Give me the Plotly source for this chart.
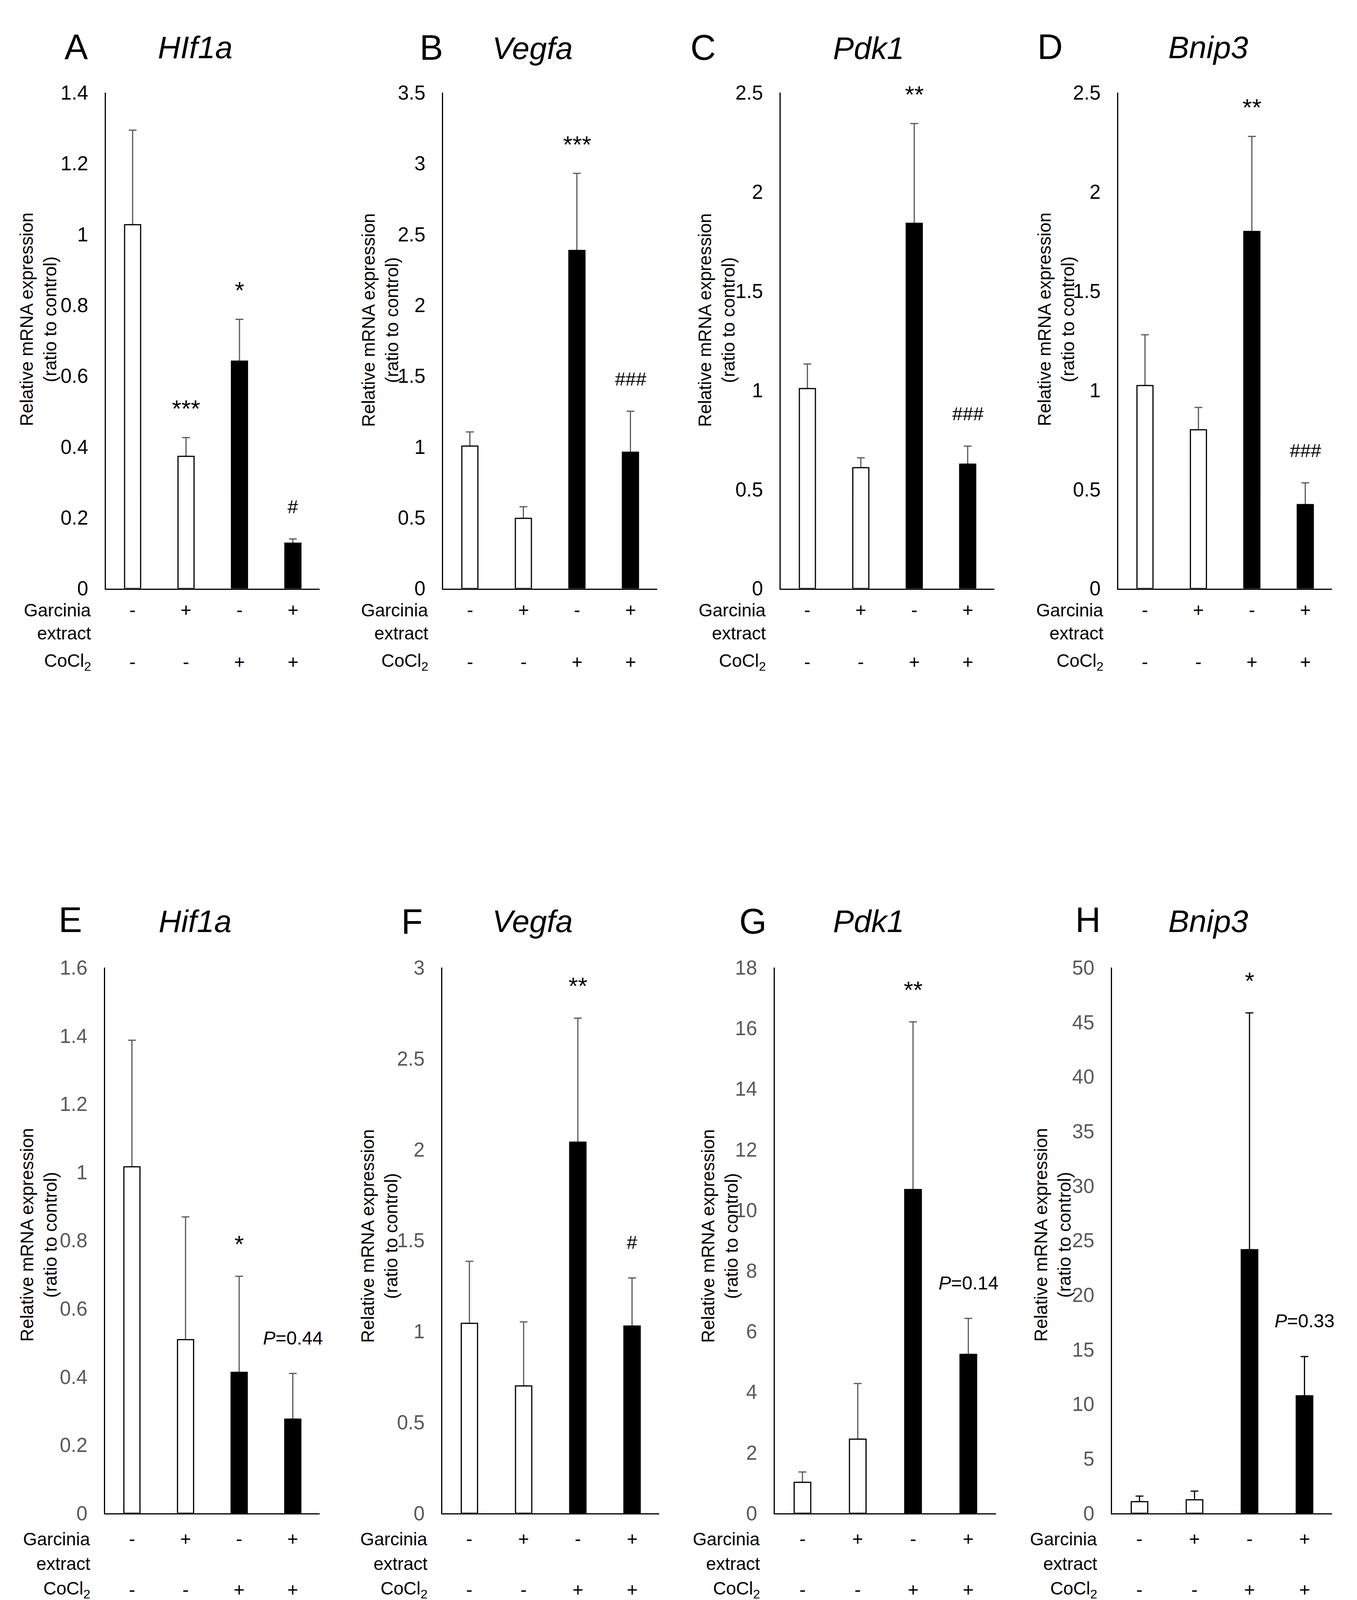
import plotly.graph_objects as go

# ---------------- data ----------------
panel_letters = ["A", "B", "C", "D", "E", "F", "G", "H"]
gene_names = ["HIf1a", "Vegfa", "Pdk1", "Bnip3", "Hif1a", "Vegfa", "Pdk1", "Bnip3"]
groups = ["Control", "Garcinia", "CoCl2", "Garcinia+CoCl2"]
garcinia_signs = ["-", "+", "-", "+"]
cocl2_signs = ["-", "-", "+", "+"]

means_A = [1.027, 0.373, 0.642, 0.128]
sd_A = [0.267, 0.053, 0.118, 0.012]
sig_A = ["", "***", "*", "#"]

means_B = [1.005, 0.495, 2.386, 0.962]
sd_B = [0.100, 0.082, 0.544, 0.289]
sig_B = ["", "", "***", "###"]

means_C = [1.008, 0.609, 1.841, 0.627]
sd_C = [0.124, 0.050, 0.503, 0.091]
sig_C = ["", "", "**", "###"]

means_D = [1.023, 0.800, 1.800, 0.423]
sd_D = [0.256, 0.113, 0.479, 0.110]
sig_D = ["", "", "**", "###"]

means_E = [1.016, 0.509, 0.413, 0.276]
sd_E = [0.371, 0.360, 0.282, 0.134]
sig_E = ["", "", "*", "<i>P</i>=0.44"]

means_F = [1.044, 0.700, 2.040, 1.029]
sd_F = [0.341, 0.352, 0.682, 0.265]
sig_F = ["", "", "**", "#"]

means_G = [1.02, 2.445, 10.68, 5.24]
sd_G = [0.34, 1.835, 5.53, 1.19]
sig_G = ["", "", "**", "<i>P</i>=0.14"]

means_H = [1.06, 1.23, 24.15, 10.76]
sd_H = [0.51, 0.80, 21.70, 3.60]
sig_H = ["", "", "*", "<i>P</i>=0.33"]

y_max = [1.4, 3.5, 2.5, 2.5, 1.6, 3, 18, 50]
y_dtick = [0.2, 0.5, 0.5, 0.5, 0.2, 0.5, 2, 5]

all_means = [means_A, means_B, means_C, means_D, means_E, means_F, means_G, means_H]
all_sd = [sd_A, sd_B, sd_C, sd_D, sd_E, sd_F, sd_G, sd_H]
all_sig = [sig_A, sig_B, sig_C, sig_D, sig_E, sig_F, sig_G, sig_H]

# ---------------- layout geometry (pixels) ----------------
W, H = 3473, 4184
x_px = [(271, 818), (1134, 1682), (1998, 2545), (2862, 3409),
        (269, 818), (1132, 1687), (1983, 2549), (2846, 3409)]
row_y_px = [(212, 1499), (2483, 3899)]
letter_px = [(195, 93), (1104, 95), (1799, 95), (2687, 93),
             (180, 2359), (1054, 2363), (1927, 2363), (2784, 2359)]
gene_px = [(500, 95), (1363, 97), (2223, 97), (3092, 95),
           (500, 2363), (1363, 2363), (2223, 2363), (3092, 2363)]
ytitle_px = [(98, 801), (973, 803), (1834, 803), (2703, 801),
             (99, 3177), (971, 3180), (1842, 3180), (2694, 3177)]
label_offsets = [(55, 114, 188), (66, 129, 196)]

FONT = "Liberation Sans, Arial, sans-serif"
GRAY = "#595959"

fig = go.Figure()
layout = dict(
    width=W, height=H, autosize=False,
    margin=dict(l=0, r=0, t=0, b=0),
    paper_bgcolor="white", plot_bgcolor="white",
    barmode="overlay", showlegend=False,
    font=dict(family=FONT, color="black"),
)
annotations = []
xpos = list(range(len(groups)))

for i in range(8):
    n = "" if i == 0 else str(i + 1)
    row = 0 if i < 4 else 1
    means, sd, sig = all_means[i], all_sd[i], all_sig[i]
    err_color = "black" if i == 7 else GRAY
    tick_color = "black" if row == 0 else GRAY

    # underlying transparent bars carrying the (upward) error bars
    fig.add_trace(go.Bar(
        x=xpos, y=means, width=0.3,
        marker=dict(color="rgba(0,0,0,0)", line=dict(width=0)),
        error_y=dict(type="data", array=sd, arrayminus=[0] * 4, symmetric=False,
                     color=err_color, thickness=3, width=10),
        xaxis="x" + n, yaxis="y" + n, hoverinfo="skip",
    ))
    # visible bars on top
    fig.add_trace(go.Bar(
        x=xpos, y=means, width=0.3,
        marker=dict(color=["white", "white", "black", "black"],
                    line=dict(color="black", width=3)),
        xaxis="x" + n, yaxis="y" + n, hoverinfo="skip",
    ))

    x0, x1 = x_px[i]
    yt, yb = row_y_px[row]
    layout["xaxis" + n] = dict(
        domain=[x0 / W, x1 / W], anchor="y" + n, range=[-0.5, 3.5],
        showline=True, linecolor="black", linewidth=3, showticklabels=False,
        ticks="", showgrid=False, zeroline=False, fixedrange=True,
    )
    layout["yaxis" + n] = dict(
        domain=[1 - yb / H, 1 - yt / H], anchor="x" + n, range=[0, y_max[i]],
        tick0=0, dtick=y_dtick[i], showline=True, linecolor="black", linewidth=3,
        ticks="", ticklabelstandoff=32, showgrid=False, zeroline=False,
        tickfont=dict(family=FONT, size=51, color=tick_color), fixedrange=True,
    )

    # panel letter and gene name
    lx, ly = letter_px[i]
    annotations.append(dict(text=panel_letters[i], x=lx / W, y=1 - ly / H,
                            xref="paper", yref="paper", showarrow=False,
                            xanchor="center", yanchor="middle",
                            font=dict(family=FONT, size=90, color="black")))
    gx, gy = gene_px[i]
    annotations.append(dict(text="<i>" + gene_names[i] + "</i>", x=gx / W, y=1 - gy / H,
                            xref="paper", yref="paper", showarrow=False,
                            xanchor="center", yanchor="middle",
                            font=dict(family=FONT, size=80, color="black")))
    # y title
    tx, ty = ytitle_px[i]
    annotations.append(dict(text="Relative mRNA expression<br>(ratio to control)",
                            x=tx / W, y=1 - ty / H, xref="paper", yref="paper",
                            textangle=-90, showarrow=False, xanchor="center", yanchor="middle",
                            font=dict(family=FONT, size=46, color="black")))
    # row labels under axis
    o1, o2, o3 = label_offsets[row]
    for txt, off in (("Garcinia", o1), ("extract", o2), ("CoCl<sub>2</sub>", o3)):
        annotations.append(dict(text=txt, xref="x" + n + " domain", yref="y" + n + " domain",
                                x=0, y=0, xshift=-36, yshift=-off, xanchor="right",
                                yanchor="middle", showarrow=False,
                                font=dict(family=FONT, size=46, color="black")))
    for k in xpos:
        annotations.append(dict(text=garcinia_signs[k], xref="x" + n, yref="y" + n + " domain",
                                x=k, y=0, yshift=-o1, xanchor="center", yanchor="middle",
                                showarrow=False, font=dict(family=FONT, size=48, color="black")))
        annotations.append(dict(text=cocl2_signs[k], xref="x" + n, yref="y" + n + " domain",
                                x=k, y=0, yshift=-o3, xanchor="center", yanchor="middle",
                                showarrow=False, font=dict(family=FONT, size=48, color="black")))
        if sig[k]:
            is_star = sig[k].startswith("*")
            annotations.append(dict(text=sig[k], xref="x" + n, yref="y" + n + " domain",
                                    x=k, y=(means[k] + sd[k]) / y_max[i] + 0.065,
                                    yshift=-8 if is_star else 0,
                                    xanchor="center", yanchor="middle", showarrow=False,
                                    font=dict(family=FONT, size=62 if is_star else 48,
                                              color="black")))

layout["annotations"] = annotations
fig.update_layout(**layout)

fig.write_html("out.html", config={"displayModeBar": False},
               post_script="document.body.style.margin='0';")
